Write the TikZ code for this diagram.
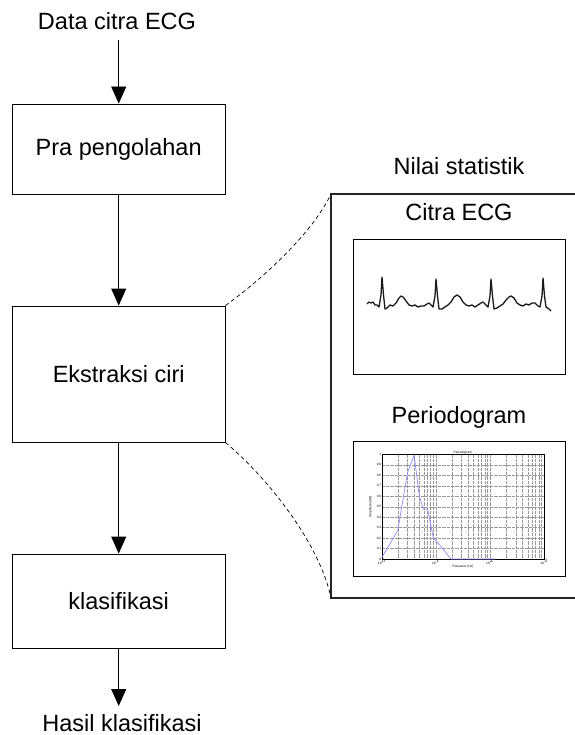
\documentclass[tikz,border=0pt]{standalone}
\usepackage{fontspec}
\setmainfont{Liberation Sans}
\usetikzlibrary{arrows.meta}
\begin{document}
\begin{tikzpicture}[x=1pt,y=-1pt,
  lbl/.style={font=\fontsize{23.5}{27}\selectfont, inner sep=0pt, anchor=base},
  stepbox/.style={draw=black, line width=0.9pt, minimum width=212.5pt, inner sep=0pt,
     font=\fontsize{23.5}{27}\selectfont},
  flow/.style={line width=0.9pt, -{Triangle[width=15pt,length=17pt]}},
  zoomline/.style={dashed, line width=0.7pt, dash pattern=on 4pt off 3pt},
  gridl/.style={black!40, line width=0.3pt, densely dotted},
  tiny/.style={font=\fontsize{3.2}{3.5}\selectfont, inner sep=0.3pt}]
\useasboundingbox (0,0) rectangle (574,735);

% left flow
\node[lbl] (in) at (117,30) {Data citra ECG};
\node[stepbox, minimum height=90pt] (pra) at (118.7,149) {Pra pengolahan};
\node[stepbox, minimum height=136pt] (eks) at (118.7,374) {Ekstraksi ciri};
\node[stepbox, minimum height=94pt] (kla) at (118.7,601) {klasifikasi};
\node[lbl] (out) at (122,731) {Hasil klasifikasi};

\coordinate (inb) at (118.7,40.5);
\coordinate (outt) at (118.7,706);
\draw[flow] (inb) -- (pra.north);
\draw[flow] (pra.south) -- (eks.north);
\draw[flow] (eks.south) -- (kla.north);
\draw[flow] (kla.south) -- (outt);

% statistic panel
\coordinate (ptl) at (331,194);
\coordinate (pbl) at (331,598);
\draw[line width=1.1pt, black!85] (575,194) -- (ptl) -- (pbl) -- (575,598);
\node[lbl] (nst) at (459,175) {Nilai statistik};
\node[lbl] (cecg) at (459,220) {Citra ECG};
\node[lbl] (per) at (459,423) {Periodogram};

% zoom curves
\draw[zoomline] (eks.north east) .. controls (265,277) and (313,232) .. (ptl);
\draw[zoomline] (eks.south east) .. controls (270,480) and (320,545) .. (pbl);

% ECG image
\node[draw=black, line width=0.9pt, minimum width=212pt, minimum height=135pt, inner sep=0pt] (ecgimg) at (459,306.5) {};
\draw[line width=1.3pt, line join=round, black!90]
 (367,304) -- (369,302) -- (371,303) -- (373,302) -- (375,305) -- (377,305) -- (379,307)
 -- (381,295) -- (382,277) -- (383.5,295) -- (385,309) -- (387,308) -- (390,305) -- (393,306)
 -- (396,303) -- (399,298) -- (401,296) -- (403,297) -- (406,301) -- (409,305) -- (412,306)
 -- (415,305) -- (418,307) -- (421,306) -- (424,306) -- (427,304) -- (429,303) -- (431,305)
 -- (433,307) -- (435,296) -- (436,279) -- (437.5,296) -- (439,309) -- (442,309) -- (445,307)
 -- (448,305) -- (451,302) -- (454,297) -- (457,295) -- (460,297) -- (463,302) -- (466,305)
 -- (469,306) -- (472,305) -- (475,307) -- (478,305) -- (481,303) -- (483,302) -- (486,305)
 -- (488,307) -- (490,296) -- (491,279) -- (492.5,296) -- (494,309) -- (497,308) -- (500,306)
 -- (503,304) -- (506,300) -- (509,297) -- (511,296) -- (514,298) -- (517,303) -- (520,305)
 -- (523,306) -- (526,304) -- (529,305) -- (532,303) -- (535,303) -- (538,306) -- (540,307)
 -- (542,296) -- (543,278) -- (544.5,296) -- (546,307) -- (549,309) -- (551,311);

% periodogram image
\node[draw=black, line width=0.9pt, minimum width=212pt, minimum height=135pt, inner sep=0pt] (perimg) at (459,509.2) {};
\begin{scope}[shift={(381.7,559)}, x=54.1pt, y=104.7pt]
  \foreach \n in {0,1,2} {
    \foreach \k in {2,...,9} {
      \draw[gridl] ({\n+ln(\k)/ln(10)},0) -- ({\n+ln(\k)/ln(10)},1);
    }
  }
  \foreach \n in {1,2} {
    \draw[gridl] (\n,0) -- (\n,1);
  }
  \foreach \v in {0.1,0.2,...,0.95} {
    \draw[gridl] (0,\v) -- (3,\v);
  }
  \draw[black, line width=0.4pt] (0,0) rectangle (3,1);
  \foreach \v/\t in {0/0,0.1/0.1,0.2/0.2,0.3/0.3,0.4/0.4,0.5/0.5,0.6/0.6,0.7/0.7,0.8/0.8,0.9/0.9,1/1} {
    \node[tiny, anchor=east] at (0,\v) {\t};
  }
  \foreach \n in {0,1,2,3} {
    \node[tiny, anchor=north] at (\n,0) {10$^{\n}$};
  }
  \node[tiny, anchor=south] at (1.5,1) {Periodogram};
  \node[tiny, anchor=north] at (1.5,-0.055) {Frekuensi (Hz)};
  \node[tiny, rotate=90, anchor=south] at (-0.17,0.5) {Amplitudo (dB)};
  \draw[blue!45, line width=0.7pt, line join=round]
    (0,0.013) -- (0.295,0.27) -- (0.48,0.83) -- (0.6,0.99) -- (0.695,0.6) -- (0.77,0.475)
    -- (0.85,0.475) -- (0.955,0.2) -- (1.08,0.13) -- (1.28,0) -- (2.09,0);
\end{scope}
\end{tikzpicture}
\end{document}
